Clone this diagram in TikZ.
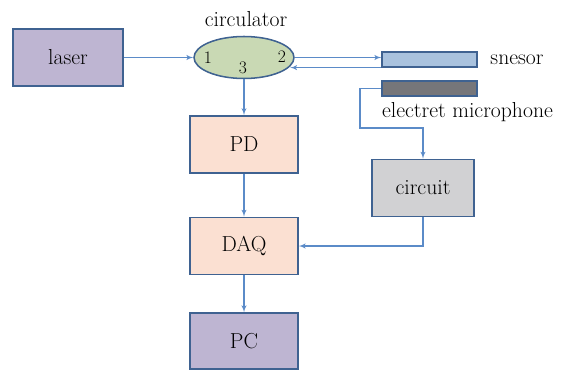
\documentclass[tikz,border=0pt]{standalone}
\usetikzlibrary{arrows,shapes.geometric}
\definecolor{edgeblue}{RGB}{63,98,145}
\definecolor{flowblue}{RGB}{91,139,200}
\definecolor{lavender}{RGB}{190,181,210}
\definecolor{peach}{RGB}{251,224,210}
\definecolor{greyfill}{RGB}{209,209,211}
\definecolor{circfill}{RGB}{201,217,180}
\definecolor{sensfill}{RGB}{169,194,222}
\definecolor{micfill}{RGB}{118,118,122}

\begin{document}
\begin{tikzpicture}[x=0.03cm,y=-0.03cm,
  every node/.style={font=\fontsize{18.5}{22}\selectfont},
  blk/.style={draw=edgeblue,line width=1.3pt,inner sep=0pt,minimum width=3.24cm,minimum height=1.72cm},
  bar/.style={draw=edgeblue,line width=1.3pt,inner sep=0pt,minimum width=2.85cm,minimum height=0.44cm},
  port/.style={font=\fontsize{15}{17}\selectfont},
  link/.style={flowblue,line width=1pt,-latex'}]
\useasboundingbox (0,0) rectangle (568,369);

\node[blk,fill=lavender,minimum width=3.3cm] (laser) at (68,57.5) {laser};
\node[ellipse,draw=edgeblue,line width=1.3pt,fill=circfill,inner sep=0pt,
      minimum width=3cm,minimum height=1.26cm] (circ) at (244,57.5) {};
\node (circlabel) at (246,19) {circulator};
\node[port] (p1) at (208,58) {1};
\node[port] (p2) at (282,57) {2};
\node[port] (p3) at (243,68) {3};

\node[bar,fill=sensfill] (sensor) at (429.5,59.5) {};
\node (senslabel) at (517,60) {snesor};
\node[bar,fill=micfill] (mic) at (429.5,88.5) {};
\node[anchor=west] (miclabel) at (378,112) {electret microphone};

\node[blk,fill=peach] (pd) at (244,144.5) {PD};
\node[blk,fill=greyfill,minimum width=3.06cm] (circuit) at (423,188) {circuit};
\node[blk,fill=peach] (daq) at (244,246) {DAQ};
\node[blk,fill=lavender,minimum height=1.68cm] (pc) at (244,341) {PC};

\coordinate (bend) at (360,128);

\draw[link] (laser.east) -- (circ.west);
\draw[link] (circ.east) -- (circ.east -| sensor.west);
\draw[link] (sensor.south west) -- (sensor.south west -| circ.-11);
\draw[link] (circ.south) -- (pd.north);
\draw[link] (pd.south) -- (daq.north);
\draw[link] (daq.south) -- (pc.north);
\draw[link] (mic.west) -| (bend) -| (circuit.north);
\draw[link] (circuit.south) |- (daq.east);

\end{tikzpicture}
\end{document}
